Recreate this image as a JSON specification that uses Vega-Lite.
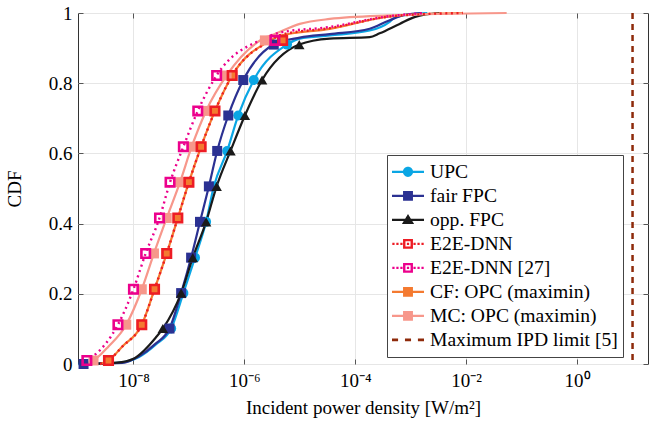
{
  "$schema": "https://vega.github.io/schema/vega-lite/v6.json",
  "width": 570,
  "height": 351,
  "autosize": "none",
  "padding": {"left": 78, "top": 13, "right": 6, "bottom": 60},
  "background": "white",
  "config": {
    "view": {"stroke": "#333", "strokeWidth": 1},
    "font": "Liberation Serif",
    "axis": {"labelFont": "Liberation Serif", "titleFont": "Liberation Serif", "labelFontSize": 19, "titleFontSize": 19, "titleFontWeight": "normal", "labelColor": "#000", "titleColor": "#000", "domain": false, "tickColor": "#555", "gridColor": "#e6e6e6", "gridWidth": 1},
    "legend": {"labelFont": "Liberation Serif", "labelFontSize": 19.6, "labelColor": "#000"}
  },
  "datasets": {
    "lines": [
      {"s": "UPC", "x": 1.259e-9, "y": 0}, {"s": "UPC", "x": 5.012e-9, "y": 0.003}, {"s": "UPC", "x": 1.259e-8, "y": 0.02}, {"s": "UPC", "x": 2.512e-8, "y": 0.055}, {"s": "UPC", "x": 4.786e-8, "y": 0.101}, {"s": "UPC", "x": 7.943e-8, "y": 0.202}, {"s": "UPC", "x": 1.288e-7, "y": 0.303}, {"s": "UPC", "x": 2.042e-7, "y": 0.405}, {"s": "UPC", "x": 2.818e-7, "y": 0.506}, {"s": "UPC", "x": 4.898e-7, "y": 0.607}, {"s": "UPC", "x": 7.762e-7, "y": 0.708}, {"s": "UPC", "x": 1.479e-6, "y": 0.809}, {"s": "UPC", "x": 5.888e-6, "y": 0.91}, {"s": "UPC", "x": 1e-5, "y": 0.927}, {"s": "UPC", "x": 3.467e-5, "y": 0.936}, {"s": "UPC", "x": 1.82e-4, "y": 0.95}, {"s": "UPC", "x": 4.169e-4, "y": 0.975}, {"s": "UPC", "x": 5.129e-4, "y": 0.987}, {"s": "UPC", "x": 9.772e-4, "y": 0.996}, {"s": "UPC", "x": 1.995e-3, "y": 1.0},
      {"s": "fair FPC", "x": 1.259e-9, "y": 0}, {"s": "fair FPC", "x": 6.31e-9, "y": 0.003}, {"s": "fair FPC", "x": 1.259e-8, "y": 0.022}, {"s": "fair FPC", "x": 2.512e-8, "y": 0.058}, {"s": "fair FPC", "x": 4.467e-8, "y": 0.101}, {"s": "fair FPC", "x": 7.244e-8, "y": 0.202}, {"s": "fair FPC", "x": 1.096e-7, "y": 0.303}, {"s": "fair FPC", "x": 1.585e-7, "y": 0.405}, {"s": "fair FPC", "x": 2.291e-7, "y": 0.506}, {"s": "fair FPC", "x": 3.236e-7, "y": 0.607}, {"s": "fair FPC", "x": 5.129e-7, "y": 0.708}, {"s": "fair FPC", "x": 9.55e-7, "y": 0.809}, {"s": "fair FPC", "x": 3.388e-6, "y": 0.91}, {"s": "fair FPC", "x": 1e-5, "y": 0.93}, {"s": "fair FPC", "x": 3.467e-5, "y": 0.94}, {"s": "fair FPC", "x": 1.82e-4, "y": 0.955}, {"s": "fair FPC", "x": 3.981e-4, "y": 0.978}, {"s": "fair FPC", "x": 7.943e-4, "y": 0.995}, {"s": "fair FPC", "x": 1.585e-3, "y": 1.0},
      {"s": "opp. FPC", "x": 1.259e-9, "y": 0}, {"s": "opp. FPC", "x": 5.012e-9, "y": 0.004}, {"s": "opp. FPC", "x": 1e-8, "y": 0.015}, {"s": "opp. FPC", "x": 1.585e-8, "y": 0.04}, {"s": "opp. FPC", "x": 2.512e-8, "y": 0.075}, {"s": "opp. FPC", "x": 3.388e-8, "y": 0.101}, {"s": "opp. FPC", "x": 7.244e-8, "y": 0.202}, {"s": "opp. FPC", "x": 1.175e-7, "y": 0.303}, {"s": "opp. FPC", "x": 2.042e-7, "y": 0.405}, {"s": "opp. FPC", "x": 3.162e-7, "y": 0.506}, {"s": "opp. FPC", "x": 5.623e-7, "y": 0.607}, {"s": "opp. FPC", "x": 1.023e-6, "y": 0.708}, {"s": "opp. FPC", "x": 2.089e-6, "y": 0.809}, {"s": "opp. FPC", "x": 9.772e-6, "y": 0.91}, {"s": "opp. FPC", "x": 3.467e-5, "y": 0.927}, {"s": "opp. FPC", "x": 1.82e-4, "y": 0.931}, {"s": "opp. FPC", "x": 2.754e-4, "y": 0.942}, {"s": "opp. FPC", "x": 6.31e-4, "y": 0.969}, {"s": "opp. FPC", "x": 1.202e-3, "y": 0.989}, {"s": "opp. FPC", "x": 3.311e-3, "y": 1.0},
      {"s": "CF: OPC (maximin)", "x": 2.512e-9, "y": 0}, {"s": "CF: OPC (maximin)", "x": 3.548e-9, "y": 0.01}, {"s": "CF: OPC (maximin)", "x": 6.31e-9, "y": 0.05}, {"s": "CF: OPC (maximin)", "x": 1.413e-8, "y": 0.112}, {"s": "CF: OPC (maximin)", "x": 2.399e-8, "y": 0.213}, {"s": "CF: OPC (maximin)", "x": 3.981e-8, "y": 0.315}, {"s": "CF: OPC (maximin)", "x": 6.31e-8, "y": 0.416}, {"s": "CF: OPC (maximin)", "x": 1e-7, "y": 0.518}, {"s": "CF: OPC (maximin)", "x": 1.66e-7, "y": 0.619}, {"s": "CF: OPC (maximin)", "x": 2.951e-7, "y": 0.721}, {"s": "CF: OPC (maximin)", "x": 6.026e-7, "y": 0.822}, {"s": "CF: OPC (maximin)", "x": 3.0e-6, "y": 0.922}, {"s": "CF: OPC (maximin)", "x": 4.365e-6, "y": 0.935}, {"s": "CF: OPC (maximin)", "x": 3.467e-5, "y": 0.955}, {"s": "CF: OPC (maximin)", "x": 4.169e-4, "y": 0.99}, {"s": "CF: OPC (maximin)", "x": 1.82e-3, "y": 0.997}, {"s": "CF: OPC (maximin)", "x": 8.71e-3, "y": 1.0},
      {"s": "MC: OPC (maximin)", "x": 1.259e-9, "y": 0}, {"s": "MC: OPC (maximin)", "x": 1.905e-9, "y": 0.01}, {"s": "MC: OPC (maximin)", "x": 3.548e-9, "y": 0.05}, {"s": "MC: OPC (maximin)", "x": 7.413e-9, "y": 0.112}, {"s": "MC: OPC (maximin)", "x": 1.413e-8, "y": 0.213}, {"s": "MC: OPC (maximin)", "x": 2.344e-8, "y": 0.315}, {"s": "MC: OPC (maximin)", "x": 3.981e-8, "y": 0.416}, {"s": "MC: OPC (maximin)", "x": 6.918e-8, "y": 0.518}, {"s": "MC: OPC (maximin)", "x": 1.122e-7, "y": 0.619}, {"s": "MC: OPC (maximin)", "x": 2.042e-7, "y": 0.721}, {"s": "MC: OPC (maximin)", "x": 4.786e-7, "y": 0.822}, {"s": "MC: OPC (maximin)", "x": 2.089e-6, "y": 0.925}, {"s": "MC: OPC (maximin)", "x": 3.548e-6, "y": 0.94}, {"s": "MC: OPC (maximin)", "x": 1e-5, "y": 0.969}, {"s": "MC: OPC (maximin)", "x": 3.467e-5, "y": 0.983}, {"s": "MC: OPC (maximin)", "x": 4.169e-4, "y": 0.993}, {"s": "MC: OPC (maximin)", "x": 5.37e-2, "y": 1.0},
      {"s": "E2E-DNN", "x": 2.512e-9, "y": 0}, {"s": "E2E-DNN", "x": 3.548e-9, "y": 0.01}, {"s": "E2E-DNN", "x": 6.31e-9, "y": 0.05}, {"s": "E2E-DNN", "x": 1.413e-8, "y": 0.112}, {"s": "E2E-DNN", "x": 2.399e-8, "y": 0.213}, {"s": "E2E-DNN", "x": 3.981e-8, "y": 0.315}, {"s": "E2E-DNN", "x": 6.31e-8, "y": 0.416}, {"s": "E2E-DNN", "x": 1e-7, "y": 0.518}, {"s": "E2E-DNN", "x": 1.66e-7, "y": 0.619}, {"s": "E2E-DNN", "x": 2.951e-7, "y": 0.721}, {"s": "E2E-DNN", "x": 6.026e-7, "y": 0.822}, {"s": "E2E-DNN", "x": 3.0e-6, "y": 0.922}, {"s": "E2E-DNN", "x": 4.365e-6, "y": 0.937}, {"s": "E2E-DNN", "x": 3.467e-5, "y": 0.957}, {"s": "E2E-DNN", "x": 4.169e-4, "y": 0.99}, {"s": "E2E-DNN", "x": 1.82e-3, "y": 0.997}, {"s": "E2E-DNN", "x": 8.71e-3, "y": 1.0},
      {"s": "E2E-DNN [27]", "x": 1.122e-9, "y": 0}, {"s": "E2E-DNN [27]", "x": 1.445e-9, "y": 0.01}, {"s": "E2E-DNN [27]", "x": 2.512e-9, "y": 0.04}, {"s": "E2E-DNN [27]", "x": 3.981e-9, "y": 0.08}, {"s": "E2E-DNN [27]", "x": 5.248e-9, "y": 0.112}, {"s": "E2E-DNN [27]", "x": 1e-8, "y": 0.213}, {"s": "E2E-DNN [27]", "x": 1.66e-8, "y": 0.315}, {"s": "E2E-DNN [27]", "x": 2.951e-8, "y": 0.416}, {"s": "E2E-DNN [27]", "x": 4.571e-8, "y": 0.518}, {"s": "E2E-DNN [27]", "x": 7.943e-8, "y": 0.619}, {"s": "E2E-DNN [27]", "x": 1.445e-7, "y": 0.721}, {"s": "E2E-DNN [27]", "x": 3.162e-7, "y": 0.822}, {"s": "E2E-DNN [27]", "x": 2.089e-6, "y": 0.925}, {"s": "E2E-DNN [27]", "x": 4.365e-6, "y": 0.944}, {"s": "E2E-DNN [27]", "x": 3.467e-5, "y": 0.96}, {"s": "E2E-DNN [27]", "x": 3.715e-4, "y": 0.99}, {"s": "E2E-DNN [27]", "x": 1.82e-3, "y": 1.0}
    ],
    "marks": [
      {"s": "UPC", "x": 1.259e-9, "y": 0}, {"s": "UPC", "x": 4.786e-8, "y": 0.101}, {"s": "UPC", "x": 7.943e-8, "y": 0.202}, {"s": "UPC", "x": 1.288e-7, "y": 0.303}, {"s": "UPC", "x": 2.042e-7, "y": 0.405}, {"s": "UPC", "x": 2.818e-7, "y": 0.506}, {"s": "UPC", "x": 4.898e-7, "y": 0.607}, {"s": "UPC", "x": 7.762e-7, "y": 0.708}, {"s": "UPC", "x": 1.479e-6, "y": 0.809}, {"s": "UPC", "x": 5.888e-6, "y": 0.91},
      {"s": "fair FPC", "x": 1.259e-9, "y": 0}, {"s": "fair FPC", "x": 4.467e-8, "y": 0.101}, {"s": "fair FPC", "x": 7.244e-8, "y": 0.202}, {"s": "fair FPC", "x": 1.096e-7, "y": 0.303}, {"s": "fair FPC", "x": 1.585e-7, "y": 0.405}, {"s": "fair FPC", "x": 2.291e-7, "y": 0.506}, {"s": "fair FPC", "x": 3.236e-7, "y": 0.607}, {"s": "fair FPC", "x": 5.129e-7, "y": 0.708}, {"s": "fair FPC", "x": 9.55e-7, "y": 0.809}, {"s": "fair FPC", "x": 3.388e-6, "y": 0.91},
      {"s": "opp. FPC", "x": 3.388e-8, "y": 0.101}, {"s": "opp. FPC", "x": 7.244e-8, "y": 0.202}, {"s": "opp. FPC", "x": 1.175e-7, "y": 0.303}, {"s": "opp. FPC", "x": 2.042e-7, "y": 0.405}, {"s": "opp. FPC", "x": 3.162e-7, "y": 0.506}, {"s": "opp. FPC", "x": 5.623e-7, "y": 0.607}, {"s": "opp. FPC", "x": 1.023e-6, "y": 0.708}, {"s": "opp. FPC", "x": 2.089e-6, "y": 0.809}, {"s": "opp. FPC", "x": 9.772e-6, "y": 0.91},
      {"s": "CF: OPC (maximin)", "x": 3.548e-9, "y": 0.01}, {"s": "CF: OPC (maximin)", "x": 1.413e-8, "y": 0.112}, {"s": "CF: OPC (maximin)", "x": 2.399e-8, "y": 0.213}, {"s": "CF: OPC (maximin)", "x": 3.981e-8, "y": 0.315}, {"s": "CF: OPC (maximin)", "x": 6.31e-8, "y": 0.416}, {"s": "CF: OPC (maximin)", "x": 1e-7, "y": 0.518}, {"s": "CF: OPC (maximin)", "x": 1.66e-7, "y": 0.619}, {"s": "CF: OPC (maximin)", "x": 2.951e-7, "y": 0.721}, {"s": "CF: OPC (maximin)", "x": 6.026e-7, "y": 0.822}, {"s": "CF: OPC (maximin)", "x": 4.898e-6, "y": 0.922},
      {"s": "MC: OPC (maximin)", "x": 1.905e-9, "y": 0.01}, {"s": "MC: OPC (maximin)", "x": 7.413e-9, "y": 0.112}, {"s": "MC: OPC (maximin)", "x": 1.413e-8, "y": 0.213}, {"s": "MC: OPC (maximin)", "x": 2.344e-8, "y": 0.315}, {"s": "MC: OPC (maximin)", "x": 3.981e-8, "y": 0.416}, {"s": "MC: OPC (maximin)", "x": 6.918e-8, "y": 0.518}, {"s": "MC: OPC (maximin)", "x": 1.122e-7, "y": 0.619}, {"s": "MC: OPC (maximin)", "x": 2.042e-7, "y": 0.721}, {"s": "MC: OPC (maximin)", "x": 4.786e-7, "y": 0.822}, {"s": "MC: OPC (maximin)", "x": 2.344e-6, "y": 0.922},
      {"s": "E2E-DNN", "x": 3.548e-9, "y": 0.01}, {"s": "E2E-DNN", "x": 1.413e-8, "y": 0.112}, {"s": "E2E-DNN", "x": 2.399e-8, "y": 0.213}, {"s": "E2E-DNN", "x": 3.981e-8, "y": 0.315}, {"s": "E2E-DNN", "x": 6.31e-8, "y": 0.416}, {"s": "E2E-DNN", "x": 1e-7, "y": 0.518}, {"s": "E2E-DNN", "x": 1.66e-7, "y": 0.619}, {"s": "E2E-DNN", "x": 2.951e-7, "y": 0.721}, {"s": "E2E-DNN", "x": 6.026e-7, "y": 0.822}, {"s": "E2E-DNN", "x": 4.898e-6, "y": 0.922},
      {"s": "E2E-DNN [27]", "x": 1.445e-9, "y": 0.01}, {"s": "E2E-DNN [27]", "x": 5.248e-9, "y": 0.112}, {"s": "E2E-DNN [27]", "x": 1e-8, "y": 0.213}, {"s": "E2E-DNN [27]", "x": 1.66e-8, "y": 0.315}, {"s": "E2E-DNN [27]", "x": 2.951e-8, "y": 0.416}, {"s": "E2E-DNN [27]", "x": 4.571e-8, "y": 0.518}, {"s": "E2E-DNN [27]", "x": 7.943e-8, "y": 0.619}, {"s": "E2E-DNN [27]", "x": 1.445e-7, "y": 0.721}, {"s": "E2E-DNN [27]", "x": 3.162e-7, "y": 0.822}, {"s": "E2E-DNN [27]", "x": 3.548e-6, "y": 0.922}
    ],
    "limit": [{"s": "Maximum IPD limit [5]", "x": 10}]
  },
  "resolve": {"axis": {"x": "independent", "y": "independent"}},
  "layer": [
    {
      "data": {"name": "lines"},
      "transform": [{"filter": "datum.s != 'E2E-DNN' && datum.s != 'E2E-DNN [27]'"}],
      "mark": {"type": "line", "interpolate": "monotone", "strokeWidth": 2.2},
      "encoding": {
        "x": {"field": "x", "type": "quantitative", "scale": {"type": "log", "domain": [1e-9, 19], "nice": false},
          "axis": {"orient": "bottom", "values": [1e-8, 1e-6, 1e-4, 1e-2, 1], "tickSize": -5, "labelPadding": 12, "grid": true, "title": "Incident power density [W/m²]", "titlePadding": 8,
            "labelExpr": "round(log(datum.value)/LN10) == -8 ? '10⁻⁸' : round(log(datum.value)/LN10) == -6 ? '10⁻⁶' : round(log(datum.value)/LN10) == -4 ? '10⁻⁴' : round(log(datum.value)/LN10) == -2 ? '10⁻²' : '10⁰'"}},
        "y": {"field": "y", "type": "quantitative", "scale": {"domain": [0, 1], "nice": false},
          "axis": {"orient": "left", "values": [0, 0.2, 0.4, 0.6, 0.8, 1], "format": "~g", "tickSize": -5, "labelPadding": 11, "grid": true, "title": "CDF", "titlePadding": 24}},
        "color": {"field": "s", "type": "nominal", "legend": null,
          "scale": {"domain": ["UPC", "fair FPC", "opp. FPC", "E2E-DNN", "E2E-DNN [27]", "CF: OPC (maximin)", "MC: OPC (maximin)"],
                    "range": ["#0AA6E4", "#2B3192", "#1A1A1A", "#ED1C24", "#EC008C", "#F47A30", "#F7978B"]}}
      }
    },
    {
      "data": {"name": "lines"},
      "transform": [{"filter": "datum.s == 'E2E-DNN' || datum.s == 'E2E-DNN [27]'"}],
      "mark": {"type": "line", "interpolate": "monotone", "strokeWidth": 2.4, "strokeDash": [2, 3.6]},
      "encoding": {
        "x": {"field": "x", "type": "quantitative", "axis": null},
        "y": {"field": "y", "type": "quantitative", "axis": null},
        "color": {"field": "s", "type": "nominal", "legend": null}
      }
    },
    {
      "data": {"name": "limit"},
      "mark": {"type": "rule", "strokeWidth": 2.5, "strokeDash": [6, 5], "color": "#8E2A0A"},
      "encoding": {
        "x": {"field": "x", "type": "quantitative", "axis": null}
      }
    },
    {
      "data": {"name": "marks"},
      "transform": [{"filter": "datum.s == 'UPC'"}],
      "mark": {"type": "point", "shape": "circle", "filled": true, "opacity": 1, "size": 100},
      "encoding": {
        "x": {"field": "x", "type": "quantitative", "axis": null},
        "y": {"field": "y", "type": "quantitative", "axis": null},
        "color": {"field": "s", "type": "nominal", "legend": null}
      }
    },
    {
      "data": {"name": "marks"},
      "transform": [{"filter": "datum.s == 'fair FPC'"}],
      "mark": {"type": "point", "shape": "square", "filled": true, "opacity": 1, "size": 100},
      "encoding": {
        "x": {"field": "x", "type": "quantitative", "axis": null},
        "y": {"field": "y", "type": "quantitative", "axis": null},
        "color": {"field": "s", "type": "nominal", "legend": null}
      }
    },
    {
      "data": {"name": "marks"},
      "transform": [{"filter": "datum.s == 'opp. FPC'"}],
      "mark": {"type": "point", "shape": "triangle-up", "filled": true, "opacity": 1, "size": 110},
      "encoding": {
        "x": {"field": "x", "type": "quantitative", "axis": null},
        "y": {"field": "y", "type": "quantitative", "axis": null},
        "color": {"field": "s", "type": "nominal", "legend": null}
      }
    },
    {
      "data": {"name": "marks"},
      "transform": [{"filter": "datum.s == 'CF: OPC (maximin)' || datum.s == 'MC: OPC (maximin)'"}],
      "mark": {"type": "point", "shape": "square", "filled": true, "opacity": 1, "size": 100},
      "encoding": {
        "x": {"field": "x", "type": "quantitative", "axis": null},
        "y": {"field": "y", "type": "quantitative", "axis": null},
        "color": {"field": "s", "type": "nominal", "legend": null}
      }
    },
    {
      "data": {"name": "marks"},
      "transform": [{"filter": "datum.s == 'E2E-DNN' || datum.s == 'E2E-DNN [27]'"}],
      "mark": {"type": "point", "shape": "square", "filled": false, "opacity": 1, "size": 72, "strokeWidth": 2.6},
      "encoding": {
        "x": {"field": "x", "type": "quantitative", "axis": null},
        "y": {"field": "y", "type": "quantitative", "axis": null},
        "color": {"field": "s", "type": "nominal", "legend": null}
      }
    },
    {
      "data": {"name": "marks"},
      "mark": {"type": "point", "filled": true, "opacity": 0},
      "encoding": {
        "x": {"field": "x", "type": "quantitative", "axis": {"orient": "top", "values": [1e-8, 1e-6, 1e-4, 1e-2, 1], "labels": false, "title": null, "grid": false, "tickSize": -5}},
        "y": {"field": "y", "type": "quantitative", "axis": {"orient": "right", "values": [0, 0.2, 0.4, 0.6, 0.8, 1], "labels": false, "title": null, "grid": false, "tickSize": -5}},
        "fill": {"field": "s", "type": "nominal",
          "scale": {"domain": ["UPC", "fair FPC", "opp. FPC", "E2E-DNN", "E2E-DNN [27]", "CF: OPC (maximin)", "MC: OPC (maximin)", "Maximum IPD limit [5]"],
                    "range": ["#0AA6E4", "#2B3192", "#1A1A1A", "#ED1C24", "#EC008C", "#F47A30", "#F7978B", "#8E2A0A"]},
          "legend": {"title": null, "orient": "none", "legendX": 309, "legendY": 142, "padding": 5, "symbolSize": 1024, "clipHeight": 23.7, "rowPadding": 0, "labelOffset": 6, "labelLimit": 0, "symbolOpacity": 1, "symbolStrokeWidth": 0, "strokeColor": "#444", "fillColor": "white"}},
        "shape": {"field": "s", "type": "nominal",
          "scale": {"domain": ["UPC", "fair FPC", "opp. FPC", "E2E-DNN", "E2E-DNN [27]", "CF: OPC (maximin)", "MC: OPC (maximin)", "Maximum IPD limit [5]"],
            "range": [
              "M-1,-0.07H1V0.07H-1Z M0.32,0A0.32,0.32,0,1,1,-0.32,0A0.32,0.32,0,1,1,0.32,0Z",
              "M-1,-0.07H1V0.07H-1Z M-0.31,-0.31H0.31V0.31H-0.31Z",
              "M-1,-0.07H1V0.07H-1Z M0,-0.36L0.38,0.26L-0.38,0.26Z",
              "M-0.98,-0.07H-0.84V0.07H-0.98Z M-0.73,-0.07H-0.59V0.07H-0.73Z M-0.48,-0.07H-0.34V0.07H-0.48Z M0.34,-0.07H0.48V0.07H0.34Z M0.59,-0.07H0.73V0.07H0.59Z M0.84,-0.07H0.98V0.07H0.84Z M-0.07,-0.07H0.07V0.07H-0.07Z M-0.31,-0.31H0.31V0.31H-0.31Z M-0.16,-0.16V0.16H0.16V-0.16Z",
              "M-0.98,-0.07H-0.84V0.07H-0.98Z M-0.73,-0.07H-0.59V0.07H-0.73Z M-0.48,-0.07H-0.34V0.07H-0.48Z M0.34,-0.07H0.48V0.07H0.34Z M0.59,-0.07H0.73V0.07H0.59Z M0.84,-0.07H0.98V0.07H0.84Z M-0.07,-0.07H0.07V0.07H-0.07Z M-0.31,-0.31H0.31V0.31H-0.31Z M-0.16,-0.16V0.16H0.16V-0.16Z",
              "M-1,-0.07H1V0.07H-1Z M-0.31,-0.31H0.31V0.31H-0.31Z",
              "M-1,-0.07H1V0.07H-1Z M-0.31,-0.31H0.31V0.31H-0.31Z",
              "M-1,-0.08H-0.62V0.08H-1Z M-0.19,-0.08H0.19V0.08H-0.19Z M0.62,-0.08H1V0.08H0.62Z"
            ]},
          "legend": {"title": null, "orient": "none", "legendX": 309, "legendY": 142, "padding": 5, "symbolSize": 1024, "clipHeight": 23.7, "rowPadding": 0, "labelOffset": 6, "labelLimit": 0, "symbolOpacity": 1, "symbolStrokeWidth": 0, "strokeColor": "#444", "fillColor": "white"}}
      }
    }
  ]
}
